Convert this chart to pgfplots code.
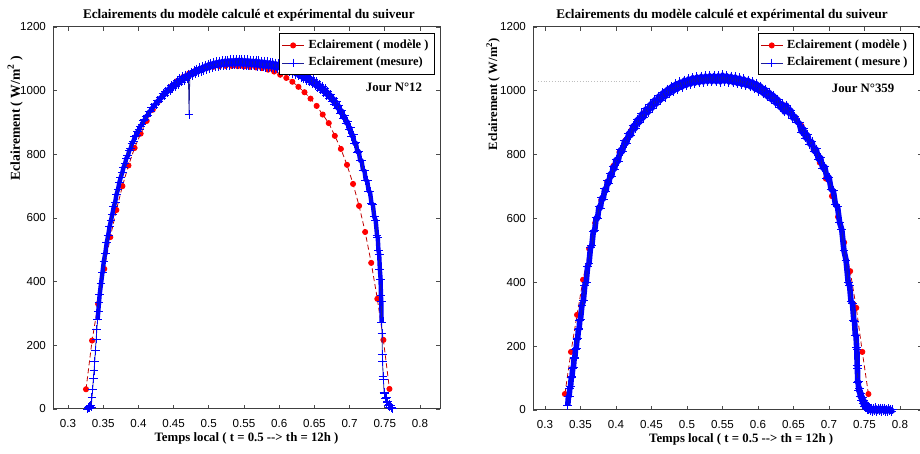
\documentclass[border=0pt]{standalone}
\usepackage{fontspec}
\setmainfont{Liberation Serif}
\newfontfamily\ticksfont{Liberation Sans}
\usepackage{pgfplots}
\usepackage{pgfplotstable}
\pgfplotsset{compat=1.18}

% jour 12 : modele
\pgfplotstableread{
x y
0.3256 62
0.3342 215
0.3428 330
0.3515 440
0.3601 540
0.3687 625
0.3773 700
0.3859 765
0.3946 820
0.4032 865
0.4118 905
0.4204 940
0.4290 968
0.4377 993
0.4463 1012
0.4549 1030
0.4635 1043
0.4721 1054
0.4808 1062
0.4894 1068
0.4980 1072
0.5066 1075
0.5152 1077
0.5239 1078
0.5325 1078
0.5411 1077
0.5497 1076
0.5583 1075
0.5670 1073
0.5756 1071
0.5842 1066
0.5928 1060
0.6014 1050
0.6101 1040
0.6187 1028
0.6273 1012
0.6359 995
0.6445 975
0.6532 952
0.6618 925
0.6704 898
0.6790 858
0.6876 817
0.6963 767
0.7049 707
0.7135 638
0.7221 556
0.7307 459
0.7394 346
0.7480 217
0.7566 63
}\modA

% jour 12 : mesure
\pgfplotstableread{
x y
0.328 0
0.329 4
0.330 8
0.331 3
0.332 12
0.333 6
0.334 35
0.335 60
0.336 95
0.337 120
0.338 150
0.339 185
0.340 220
0.341 250
0.342 280
0.343 305
0.344 335
0.345 360
0.347 395
0.349 430
0.351 465
0.353 490
0.355 522
0.357 545
0.359 572
0.361 592
0.363 612
0.365 635
0.367 650
0.369 675
0.371 690
0.373 712
0.375 728
0.377 742
0.379 760
0.381 770
0.383 788
0.385 795
0.387 812
0.389 818
0.391 835
0.393 842
0.395 856
0.397 860
0.399 872
0.401 878
0.403 889
0.405 893
0.407 905
0.409 908
0.411 920
0.413 922
0.415 934
0.417 935
0.419 946
0.421 946
0.423 958
0.425 957
0.427 968
0.429 966
0.431 979
0.433 976
0.435 990
0.437 985
0.439 999
0.441 994
0.443 1008
0.445 1000
0.447 1016
0.449 1008
0.451 1024
0.453 1014
0.455 1031
0.457 1020
0.459 1037
0.461 1027
0.463 1044
0.465 1033
0.467 1049
0.469 1038
0.471 1052
0.472 925
0.473 1045
0.475 1058
0.477 1048
0.479 1063
0.481 1053
0.483 1068
0.485 1057
0.487 1072
0.489 1061
0.491 1076
0.493 1064
0.495 1080
0.497 1067
0.499 1083
0.501 1070
0.503 1086
0.505 1073
0.507 1089
0.509 1075
0.511 1091
0.513 1077
0.515 1093
0.517 1078
0.519 1094
0.521 1079
0.523 1095
0.525 1080
0.527 1096
0.529 1080
0.531 1097
0.533 1081
0.535 1097
0.537 1081
0.539 1098
0.541 1081
0.543 1098
0.545 1081
0.547 1098
0.549 1080
0.551 1097
0.553 1080
0.555 1097
0.557 1079
0.559 1096
0.561 1079
0.563 1095
0.565 1078
0.567 1095
0.569 1077
0.571 1094
0.573 1076
0.575 1093
0.577 1075
0.579 1092
0.581 1074
0.583 1091
0.585 1073
0.587 1090
0.589 1072
0.591 1089
0.593 1070
0.595 1087
0.597 1068
0.599 1085
0.601 1086
0.603 1068
0.605 1083
0.607 1065
0.609 1080
0.611 1062
0.613 1076
0.615 1059
0.617 1073
0.619 1055
0.621 1069
0.623 1051
0.625 1065
0.627 1047
0.629 1061
0.631 1042
0.633 1056
0.635 1037
0.637 1051
0.639 1032
0.641 1046
0.643 1027
0.645 1040
0.647 1021
0.649 1034
0.651 1015
0.653 1028
0.655 1009
0.657 1021
0.659 1002
0.661 1014
0.663 994
0.665 1006
0.667 986
0.669 997
0.671 977
0.673 988
0.675 967
0.677 977
0.679 956
0.681 966
0.683 943
0.685 953
0.687 929
0.689 938
0.691 914
0.693 921
0.695 897
0.697 904
0.699 878
0.701 884
0.703 857
0.705 861
0.707 833
0.709 836
0.711 807
0.713 810
0.715 780
0.717 781
0.719 750
0.721 750
0.723 718
0.725 718
0.727 684
0.729 682
0.731 647
0.733 642
0.735 604
0.737 593
0.739 545
0.740 538
0.741 497
0.742 486
0.743 438
0.744 408
0.7445 357
0.745 338
0.7455 272
0.746 238
0.7465 172
0.747 148
0.7475 102
0.748 93
0.749 52
0.750 50
0.751 32
0.752 35
0.753 20
0.754 24
0.755 12
0.756 15
0.757 6
0.758 10
0.759 3
0.760 5
0.761 1
}\mesA

% jour 359 : modele
\pgfplotstableread{
x y
0.3280 50
0.3366 182
0.3451 298
0.3536 408
0.3622 505
0.3707 586
0.3793 658
0.3878 715
0.3964 765
0.4049 808
0.4135 845
0.4220 877
0.4306 905
0.4391 930
0.4477 950
0.4562 967
0.4648 982
0.4733 995
0.4819 1006
0.4904 1015
0.4990 1022
0.5075 1028
0.5161 1032
0.5246 1035
0.5332 1037
0.5417 1037
0.5503 1036
0.5588 1034
0.5674 1031
0.5759 1027
0.5845 1022
0.5930 1015
0.6016 1007
0.6101 997
0.6187 985
0.6272 971
0.6358 955
0.6443 936
0.6529 915
0.6614 890
0.6700 850
0.6785 815
0.6871 775
0.6956 725
0.7042 670
0.7127 605
0.7213 525
0.7298 435
0.7384 320
0.7469 182
0.7555 50
}\modB

% jour 359 : mesure
\pgfplotstableread{
x y
0.332 14
0.333 41
0.334 44
0.335 69
0.336 74
0.337 101
0.338 104
0.339 131
0.340 134
0.341 161
0.342 164
0.343 191
0.344 194
0.345 221
0.346 224
0.347 251
0.348 254
0.349 281
0.350 284
0.352 328
0.354 342
0.356 390
0.358 400
0.360 450
0.362 460
0.364 508
0.366 515
0.368 560
0.370 562
0.372 602
0.374 600
0.376 637
0.378 632
0.380 666
0.382 660
0.384 693
0.386 686
0.388 718
0.390 710
0.392 741
0.394 732
0.396 763
0.398 754
0.400 785
0.403 778
0.406 815
0.409 809
0.412 843
0.415 836
0.418 868
0.421 860
0.424 891
0.427 881
0.430 911
0.433 900
0.436 928
0.439 916
0.442 944
0.445 931
0.448 958
0.451 945
0.454 972
0.457 958
0.460 984
0.463 970
0.466 995
0.469 980
0.472 1005
0.475 990
0.478 1014
0.481 998
0.484 1022
0.487 1005
0.490 1028
0.493 1011
0.496 1034
0.499 1016
0.502 1038
0.505 1020
0.508 1042
0.511 1023
0.514 1044
0.517 1025
0.520 1046
0.523 1027
0.526 1047
0.529 1028
0.532 1048
0.535 1028
0.538 1048
0.541 1028
0.544 1048
0.547 1027
0.550 1050
0.553 1029
0.556 1048
0.559 1027
0.562 1046
0.565 1025
0.568 1044
0.571 1022
0.574 1041
0.577 1019
0.580 1038
0.583 1016
0.586 1034
0.589 1012
0.592 1029
0.595 1006
0.598 1023
0.601 999
0.604 1015
0.607 991
0.610 1006
0.613 981
0.616 996
0.619 971
0.622 986
0.625 960
0.628 974
0.631 947
0.634 960
0.637 934
0.640 955
0.643 930
0.646 940
0.649 914
0.652 920
0.655 902
0.658 900
0.661 871
0.664 882
0.667 852
0.670 862
0.673 832
0.676 841
0.679 810
0.682 818
0.685 785
0.688 792
0.691 758
0.694 763
0.697 727
0.700 730
0.703 690
0.706 688
0.709 644
0.712 637
0.715 587
0.718 565
0.721 500
0.724 470
0.727 400
0.729 390
0.731 340
0.733 335
0.735 280
0.736 278
0.737 235
0.738 235
0.739 195
0.7393 190
0.7396 140
0.740 130
0.7405 85
0.741 90
0.742 60
0.743 68
0.744 42
0.745 53
0.746 30
0.747 40
0.748 19
0.749 30
0.750 10
0.751 22
0.752 6
0.753 16
0.754 2
0.755 12
0.756 0
0.757 8
0.7585 -3
0.760 6
0.7615 -4
0.763 5
0.7645 -2
0.766 7
0.7675 -5
0.769 4
0.7705 -3
0.772 6
0.7735 -4
0.775 5
0.7765 -2
0.778 6
0.7795 -5
0.781 3
0.7825 -4
0.784 5
0.7855 -3
0.787 2
0.7885 -4
0.790 1
}\mesB

\definecolor{bleu}{RGB}{0,0,255}
\definecolor{marine}{RGB}{30,30,150}

\pgfplotsset{
  suiveur/.style={
    scale only axis,
    anchor=south west,
    ymin=0, ymax=1200,
    xtick={0.3,0.35,0.4,0.45,0.5,0.55,0.6,0.65,0.7,0.75,0.8},
    xticklabels={0.3,0.35,0.4,0.45,0.5,0.55,0.6,0.65,0.7,0.75,0.8},
    ytick={0,200,400,600,800,1000,1200},
    /pgf/number format/1000 sep={},
    /pgf/number format/assume math mode=true,
    tick align=inside,
    major tick length=2pt,
    tick style={black!70, line width=0.4pt},
    axis line style={black!75, line width=0.5pt},
    tick label style={font=\ticksfont\fontsize{5.8}{6.5}\selectfont},
    xticklabel style={yshift=-1.5pt},
    every axis title shift=0pt,
    title style={font=\bfseries\fontsize{6.6}{7}\selectfont, anchor=center},
    xlabel style={font=\bfseries\fontsize{6.4}{7}\selectfont, anchor=center},
    ylabel style={font=\bfseries\fontsize{6.8}{7}\selectfont, anchor=center},
    legend style={font=\bfseries\fontsize{6.2}{7}\selectfont, draw=black, line width=0.5pt,
      inner sep=1pt, row sep=-1pt, fill=white},
    legend cell align=left,
    legend image code/.code={\draw[mark repeat=2, mark phase=2, #1] plot coordinates {(0pt,0pt) (5.5pt,0pt) (11pt,0pt)};},
    legend image post style={solid},
    clip=false,
    clip marker paths=true,
  },
  modele/.style={color=red!75!black, line width=0.4pt,
    dash pattern=on 2.5pt off 1.5pt,
    mark=*, mark size=1.3pt, mark options={solid, fill=red, draw=red}},
  mesure/.style={color=marine, draw=marine, line width=0.4pt, mark=+, mark size=2.2pt,
    mark options={solid, draw=bleu, line width=0.45pt}},
  bande/.style={forget plot, draw=bleu, no marks, line join=round},
}

\begin{document}
\begin{tikzpicture}
\useasboundingbox (0,0) rectangle (460pt,227pt);

\begin{axis}[suiveur,
  at={(26.5pt,22.5pt)}, width=193.5pt, height=191pt,
  xmin=0.2787, xmax=0.8284,
  title={Eclairements du modèle calculé et expérimental du suiveur},
  title style={at={(rel axis cs:0.506,1.031)}},
  xlabel={Temps local ( t = 0.5 {-}{-}> th = 12h )},
  xlabel style={at={(rel axis cs:0.5,-0.078)}},
  ylabel={Eclairement ( W/m\textsuperscript{2} )},
  ylabel style={at={(rel axis cs:-0.098,0.762)}},
  legend style={at={(rel axis cs:0.987,0.984)}, anchor=north east},
]
\addplot[modele] table {\modA};
\addlegendentry{Eclairement ( modèle )}
\addplot[bande, line width=2.2pt, skip coords between index={81}{82},
  unbounded coords=discard, restrict y to domain=260:1200] table {\mesA};
\addplot[mesure] table {\mesA};
\addlegendentry{Eclairement (mesure)}
\node[font=\bfseries\fontsize{6.4}{7}\selectfont] at (axis cs:0.763,1012) {Jour N°12};
\end{axis}

\begin{axis}[suiveur,
  at={(266.5pt,22pt)}, width=194.5pt, height=191.5pt,
  xmin=0.2831, xmax=0.831,
  title={Eclairements du modèle calculé et expérimental du suiveur},
  title style={at={(rel axis cs:0.486,1.031)}},
  xlabel={Temps local ( t = 0.5 {-}{-}> th = 12h )},
  xlabel style={at={(rel axis cs:0.535,-0.078)}},
  ylabel={Eclairement ( W/m\textsuperscript{2})},
  ylabel style={at={(rel axis cs:-0.103,0.825)}, font=\bfseries\fontsize{6.3}{7}\selectfont},
  legend style={at={(rel axis cs:0.578,0.984)}, anchor=north west},
]
\addplot[forget plot, black!25, densely dotted, line width=0.4pt] coordinates {(0.29,1030) (0.435,1030)};
\addplot[modele] table {\modB};
\addlegendentry{Eclairement ( modèle )}
\addplot[bande, line width=2.8pt] table {\mesB};
\addplot[mesure] table {\mesB};
\addlegendentry{Eclairement ( mesure )}
\node[font=\bfseries\fontsize{6.4}{7}\selectfont] at (axis cs:0.748,1009) {Jour N°359};
\end{axis}
\end{tikzpicture}
\end{document}
